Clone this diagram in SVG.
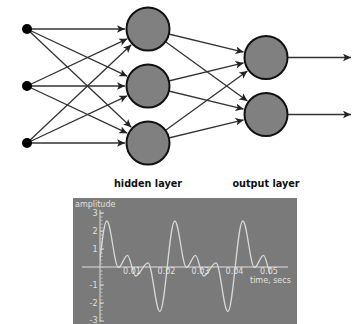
<svg xmlns="http://www.w3.org/2000/svg" width="358" height="324" viewBox="0 0 358 324">
<style>
.c{stroke:#333;stroke-width:1.3;fill:none;marker-end:url(#ah)}
.n{fill:#808080;stroke:#111;stroke-width:2}
.i{fill:#000}
.lbl{font-family:"DejaVu Sans",sans-serif;font-weight:bold;font-size:9.7px;fill:#111;text-anchor:middle}
.g{font-family:"DejaVu Sans",sans-serif;font-size:8px;fill:#e0e0e0}
.ax{stroke:#e0e0e0;stroke-width:1;fill:none}
</style>
<defs>
<marker id="ah" markerUnits="userSpaceOnUse" markerWidth="10" markerHeight="8" refX="8" refY="4" orient="auto" viewBox="0 0 10 8">
<path d="M8,4 L0,0.2 L2,4 L0,7.8 Z" fill="#222"/>
</marker>
<clipPath id="clip"><rect x="100" y="200" width="170" height="124"/></clipPath>
</defs>
<rect width="358" height="324" fill="#fff"/>
<g id="connectors">
<line class="c" x1="27" y1="29" x2="125" y2="29"/>
<line class="c" x1="27" y1="29" x2="127.2" y2="76.2"/>
<line class="c" x1="27" y1="29" x2="131.3" y2="127.2"/>
<line class="c" x1="27" y1="86" x2="127.2" y2="38.8"/>
<line class="c" x1="27" y1="86" x2="125" y2="86"/>
<line class="c" x1="27" y1="86" x2="127.2" y2="133.2"/>
<line class="c" x1="27" y1="143" x2="131.3" y2="44.8"/>
<line class="c" x1="27" y1="143" x2="127.2" y2="95.8"/>
<line class="c" x1="27" y1="143" x2="125" y2="143"/>
<line class="c" x1="148" y1="29" x2="243.6" y2="52.1"/>
<line class="c" x1="148" y1="29" x2="247.4" y2="101"/>
<line class="c" x1="148" y1="86" x2="243.6" y2="62.9"/>
<line class="c" x1="148" y1="86" x2="243.6" y2="109.1"/>
<line class="c" x1="148" y1="143" x2="247.4" y2="71"/>
<line class="c" x1="148" y1="143" x2="243.6" y2="119.9"/>
<line class="c" x1="266" y1="57.5" x2="351" y2="57.5"/>
<line class="c" x1="266" y1="114.5" x2="351" y2="114.5"/>
</g>
<g id="in1"><circle class="i" cx="27" cy="29" r="5"/></g>
<g id="in2"><circle class="i" cx="27" cy="86" r="5"/></g>
<g id="in3"><circle class="i" cx="27" cy="143" r="5"/></g>
<g id="h1"><circle class="n" cx="148" cy="29" r="21.5"/></g>
<g id="h2"><circle class="n" cx="148" cy="86" r="21.5"/></g>
<g id="h3"><circle class="n" cx="148" cy="143" r="21.5"/></g>
<g id="o1"><circle class="n" cx="266" cy="57.5" r="21.5"/></g>
<g id="o2"><circle class="n" cx="266" cy="114.5" r="21.5"/></g>
<g id="labels">
<text class="lbl" x="148" y="187">hidden layer</text>
<text class="lbl" x="266" y="187">output layer</text>
</g>
<g id="chart">
<rect x="73" y="198" width="224" height="126" fill="#7a7a7a"/>
<line class="ax" x1="82" y1="267" x2="288" y2="267"/>
<line class="ax" x1="100" y1="210" x2="100" y2="322"/>
<line x1="101.5" y1="213" x2="101.5" y2="321" stroke="#c8c8c8" stroke-width="2" stroke-dasharray="0.8 2.8"/>
<path class="ax" d="M100,213h4M100,231h4M100,249h4M100,285h4M100,303h4M100,321h4M134,267v3M168,267v3M202,267v3M236,267v3M270,267v3"/>
<path clip-path="url(#clip)" fill="none" stroke="#d8d8d8" stroke-width="1.3" d="M91.8,311.5 C97.2,311.5 101.4,221 106.8,221 C111,221 114.3,267.5 118.5,267.5 C121.7,267.5 124.3,255.3 127.5,255.3 C130.4,255.3 132.7,276 135.6,276 C140.1,276 143.5,262.8 148,262.8 C152.2,262.8 155.6,311.5 159.8,311.5 C165.2,311.5 169.4,221 174.8,221 C179,221 182.3,267.5 186.5,267.5 C189.7,267.5 192.3,255.3 195.5,255.3 C198.4,255.3 200.7,276 203.6,276 C208.1,276 211.5,262.8 216,262.8 C220.2,262.8 223.6,311.5 227.8,311.5 C233.2,311.5 237.4,221 242.8,221 C247,221 250.3,267.5 254.5,267.5 C257.7,267.5 260.3,255.3 263.5,255.3 C266.4,255.3 268.7,276 271.6,276"/>
<text class="g" x="75" y="207">amplitude</text>
<g text-anchor="end">
<text class="g" x="97.5" y="216">3</text>
<text class="g" x="97.5" y="234">2</text>
<text class="g" x="97.5" y="252">1</text>
<text class="g" x="97.5" y="288">-1</text>
<text class="g" x="97.5" y="306">-2</text>
<text class="g" x="97.5" y="322.5">-3</text>
</g>
<g text-anchor="middle">
<text class="g" x="132" y="273.5">0.01</text>
<text class="g" x="166.5" y="273.5">0.02</text>
<text class="g" x="200.5" y="273.5">0.03</text>
<text class="g" x="234.5" y="273.5">0.04</text>
<text class="g" x="269" y="273.5">0.05</text>
</g>
<text class="g" x="250" y="282.5">time, secs</text>
</g>
</svg>
